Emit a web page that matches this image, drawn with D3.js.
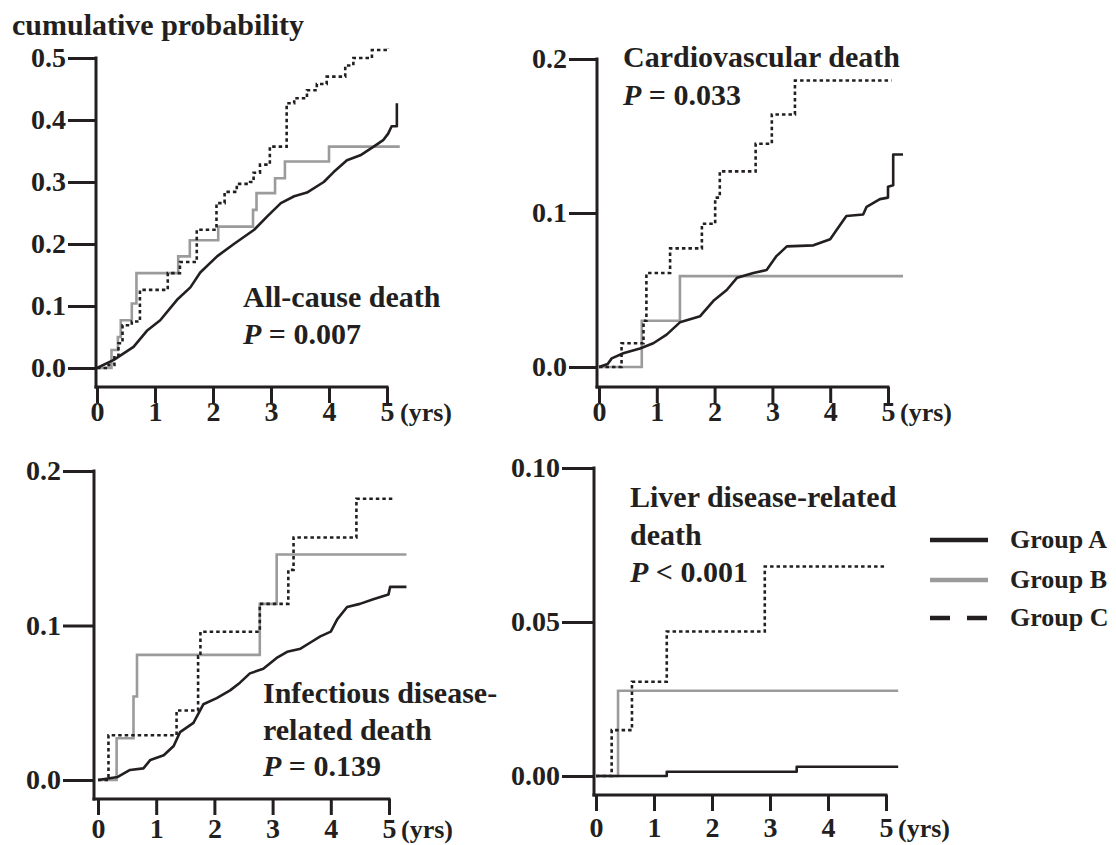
<!DOCTYPE html>
<html><head><meta charset="utf-8">
<script src="https://cdn.jsdelivr.net/npm/d3@7"></script>
<style>
body{margin:0;background:#fff;}
svg text{font-family:"Liberation Serif","Times New Roman",serif;font-weight:bold;fill:#231f20;}
</style></head><body>
<svg id="c" width="1116" height="845"></svg>
<script>
// ---------- data ----------
const xTicks = [0, 1, 2, 3, 4, 5];
const yTicksAll = [0, 0.1, 0.2, 0.3, 0.4, 0.5];
const yTicksCV = [0, 0.1, 0.2];
const yTicksInf = [0, 0.1, 0.2];
const yTicksLiver = [0, 0.05, 0.10];
const groupNames = ["Group A", "Group B", "Group C"];
const panelTitles = [["All-cause death"], ["Cardiovascular death"], ["Infectious disease-", "related death"], ["Liver disease-related", "death"]];
const pLabels = ["0.007", "0.033", "0.139", "0.001"];
const pSigns = ["=", "=", "=", "<"];

// [years, cumulative probability]
const allA = [[0,0],[0.29,0.013],[0.63,0.034],[0.86,0.06],[1.09,0.077],[1.38,0.11],[1.61,0.13],[1.78,0.154],[2.07,0.18],[2.36,0.2],[2.71,0.223],[2.94,0.245],[3.17,0.266],[3.4,0.277],[3.62,0.283],[3.91,0.3],[4.08,0.316],[4.31,0.335],[4.54,0.343],[4.77,0.357],[4.94,0.368],[5.02,0.378],[5.08,0.39],[5.17,0.39],[5.17,0.427]];
const allB = [[0,0],[0.25,0.029],[0.36,0.05],[0.41,0.077],[0.6,0.104],[0.68,0.153],[1.4,0.18],[1.6,0.206],[2.09,0.228],[2.69,0.255],[2.75,0.282],[3.07,0.306],[3.24,0.333],[4.0,0.357],[5.22,0.357]];
const allC = [[0,0],[0.2,0.005],[0.3,0.02],[0.37,0.04],[0.44,0.069],[0.6,0.075],[0.74,0.126],[1.22,0.153],[1.43,0.171],[1.72,0.223],[2.06,0.266],[2.2,0.284],[2.41,0.297],[2.64,0.3],[2.7,0.315],[2.81,0.328],[2.98,0.357],[3.27,0.427],[3.4,0.435],[3.62,0.448],[3.79,0.458],[3.96,0.47],[4.28,0.488],[4.42,0.5],[4.74,0.513],[5.02,0.516]];

const cvA = [[0,0],[0.15,0.002],[0.22,0.0056],[0.42,0.0089],[0.71,0.012],[0.94,0.0154],[1.17,0.021],[1.4,0.029],[1.75,0.033],[1.98,0.043],[2.21,0.05],[2.39,0.058],[2.67,0.061],[2.9,0.063],[3.07,0.072],[3.25,0.0783],[3.71,0.079],[4.0,0.083],[4.11,0.089],[4.28,0.098],[4.57,0.099],[4.63,0.104],[4.86,0.109],[5.0,0.11],[5.0,0.117],[5.09,0.118],[5.09,0.138],[5.26,0.138]];
const cvB = [[0,0],[0.74,0.03],[1.4,0.059],[5.26,0.059]];
const cvC = [[0,0],[0.39,0.0154],[0.77,0.03],[0.82,0.061],[1.23,0.077],[1.78,0.093],[2.01,0.11],[2.09,0.127],[2.71,0.145],[2.99,0.164],[3.39,0.186],[5.06,0.186]];

const infA = [[0,0],[0.34,0.002],[0.55,0.0065],[0.78,0.0075],[0.9,0.013],[1.13,0.016],[1.3,0.022],[1.41,0.031],[1.64,0.037],[1.81,0.049],[2.04,0.053],[2.27,0.058],[2.44,0.063],[2.61,0.069],[2.84,0.072],[3.07,0.079],[3.25,0.083],[3.48,0.085],[3.65,0.089],[3.82,0.093],[4.0,0.096],[4.11,0.104],[4.28,0.112],[4.5,0.114],[4.73,0.117],[4.99,0.12],[5.02,0.125],[5.3,0.125]];
const infB = [[0,0],[0.32,0.027],[0.61,0.054],[0.67,0.081],[2.78,0.114],[3.07,0.146],[5.3,0.146]];
const infC = [[0,0],[0.18,0.029],[1.35,0.045],[1.72,0.08],[1.76,0.096],[2.78,0.114],[3.27,0.136],[3.36,0.157],[4.44,0.182],[5.07,0.182]];

const liverA = [[0,0],[1.22,0.0014],[3.46,0.003],[5.21,0.003]];
const liverB = [[0,0],[0.38,0.0277],[5.21,0.0277]];
const liverC = [[0,0],[0.27,0.0149],[0.62,0.0306],[1.22,0.0469],[2.91,0.068],[5.01,0.068]];

// ---------- drawing ----------
const svg = d3.select("#c");
const INK = "#231f20", GRAY = "#9b9b9b";

const panels = [
  {ax:96, x0:97, x5:387, yTop:58, y0:368, xAxisY:387, dom:0.5, ticks:yTicksAll, fmt:d3.format(".1f"), tickLen:28,
   series:[allA,allB,allC], aCurve:"linear", tx:243, tyl:[307], py:344, yrsX:400, labY:421},
  {ax:597, x0:599, x5:888, yTop:59, y0:367, xAxisY:387, dom:0.2, ticks:yTicksCV, fmt:d3.format(".1f"), tickLen:28,
   series:[cvA,cvB,cvC], aCurve:"linear", tx:623, tyl:[67], py:105, yrsX:900, labY:421},
  {ax:94, x0:98, x5:389, yTop:471, y0:780, xAxisY:799, dom:0.2, ticks:yTicksInf, fmt:d3.format(".1f"), tickLen:31,
   series:[infA,infB,infC], aCurve:"linear", tx:263, tyl:[703,740], py:776, yrsX:401, labY:838},
  {ax:594, x0:596, x5:886, yTop:468, y0:776, xAxisY:795, dom:0.1, ticks:yTicksLiver, fmt:d3.format(".2f"), tickLen:32,
   series:[liverA,liverB,liverC], aCurve:"step", tx:630, tyl:[507,545], py:582, yrsX:898, labY:837}
];

panels.forEach((p, i) => {
  const x = d3.scaleLinear().domain([0,5]).range([p.x0, p.x5]);
  const y = d3.scaleLinear().domain([0,p.dom]).range([p.y0, p.yTop]);
  const g = svg.append("g");

  // y axis
  const yAx = g.append("g").attr("transform", `translate(${p.ax},0)`)
    .call(d3.axisLeft(y).tickValues(p.ticks).tickFormat(p.fmt).tickSize(p.tickLen).tickPadding(2));
  yAx.select(".domain").remove();
  yAx.selectAll(".tick line").attr("stroke", INK).attr("stroke-width", 3);
  yAx.selectAll(".tick text").attr("font-size", 28).attr("font-family", null).attr("fill", INK);
  g.append("line").attr("x1", p.ax).attr("x2", p.ax).attr("y1", y(p.dom)-1.5).attr("y2", p.xAxisY+1.5)
    .attr("stroke", INK).attr("stroke-width", 3);

  // x axis
  const xAx = g.append("g").attr("transform", `translate(0,${p.xAxisY})`)
    .call(d3.axisBottom(x).tickValues(xTicks).tickFormat(d3.format("d")).tickSize(16).tickPadding(4));
  xAx.select(".domain").remove();
  xAx.selectAll(".tick line").attr("stroke", INK).attr("stroke-width", 3);
  xAx.selectAll(".tick text").attr("font-size", 28).attr("font-family", null).attr("fill", INK)
    .attr("y", null).attr("dy", null).attr("transform", `translate(0,${p.labY - p.xAxisY})`);
  g.append("line").attr("x1", p.ax-1.5).attr("x2", x(5)+1.5).attr("y1", p.xAxisY).attr("y2", p.xAxisY)
    .attr("stroke", INK).attr("stroke-width", 3);
  g.append("text").attr("x", p.yrsX).attr("y", p.labY).attr("font-size", 26).text("(yrs)");

  // curves
  const mk = (curve) => d3.line().x(d => x(d[0])).y(d => y(d[1])).curve(curve);
  const aCurve = p.aCurve === "step" ? d3.curveStepAfter : d3.curveLinear;
  g.append("path").datum(p.series[1]).attr("d", mk(d3.curveStepAfter))
    .attr("fill","none").attr("stroke", GRAY).attr("stroke-width", 2.6);
  g.append("path").datum(p.series[2]).attr("d", mk(d3.curveStepAfter))
    .attr("fill","none").attr("stroke", INK).attr("stroke-width", 2.6).attr("stroke-dasharray", "3.5,3");
  g.append("path").datum(p.series[0]).attr("d", mk(aCurve))
    .attr("fill","none").attr("stroke", INK).attr("stroke-width", 2.6).attr("stroke-linejoin","round");

  // panel title
  panelTitles[i].forEach((line, k) => {
    g.append("text").attr("font-size", 30).attr("x", p.tx).attr("y", p.tyl[k]).text(line);
  });
  const pt = g.append("text").attr("font-size", 30).attr("x", p.tx).attr("y", p.py);
  pt.append("tspan").attr("font-style", "italic").text("P");
  pt.append("tspan").text(" " + pSigns[i] + " " + pLabels[i]);
});

// y title
svg.append("text").attr("x", 12).attr("y", 35).attr("font-size", 30).text("cumulative probability");

// legend
const legY = [540, 580, 618];
const legStyles = [{c:INK, w:4.5, dash:null}, {c:GRAY, w:4.5, dash:null}, {c:INK, w:4.5, dash:"20,17"}];
groupNames.forEach((name, k) => {
  svg.append("line").attr("x1", 930).attr("x2", 988).attr("y1", legY[k]).attr("y2", legY[k])
    .attr("stroke", legStyles[k].c).attr("stroke-width", legStyles[k].w).attr("stroke-dasharray", legStyles[k].dash);
  svg.append("text").attr("x", 1010).attr("y", legY[k] + 8).attr("font-size", 26).text(name);
});
</script>
</body></html>
